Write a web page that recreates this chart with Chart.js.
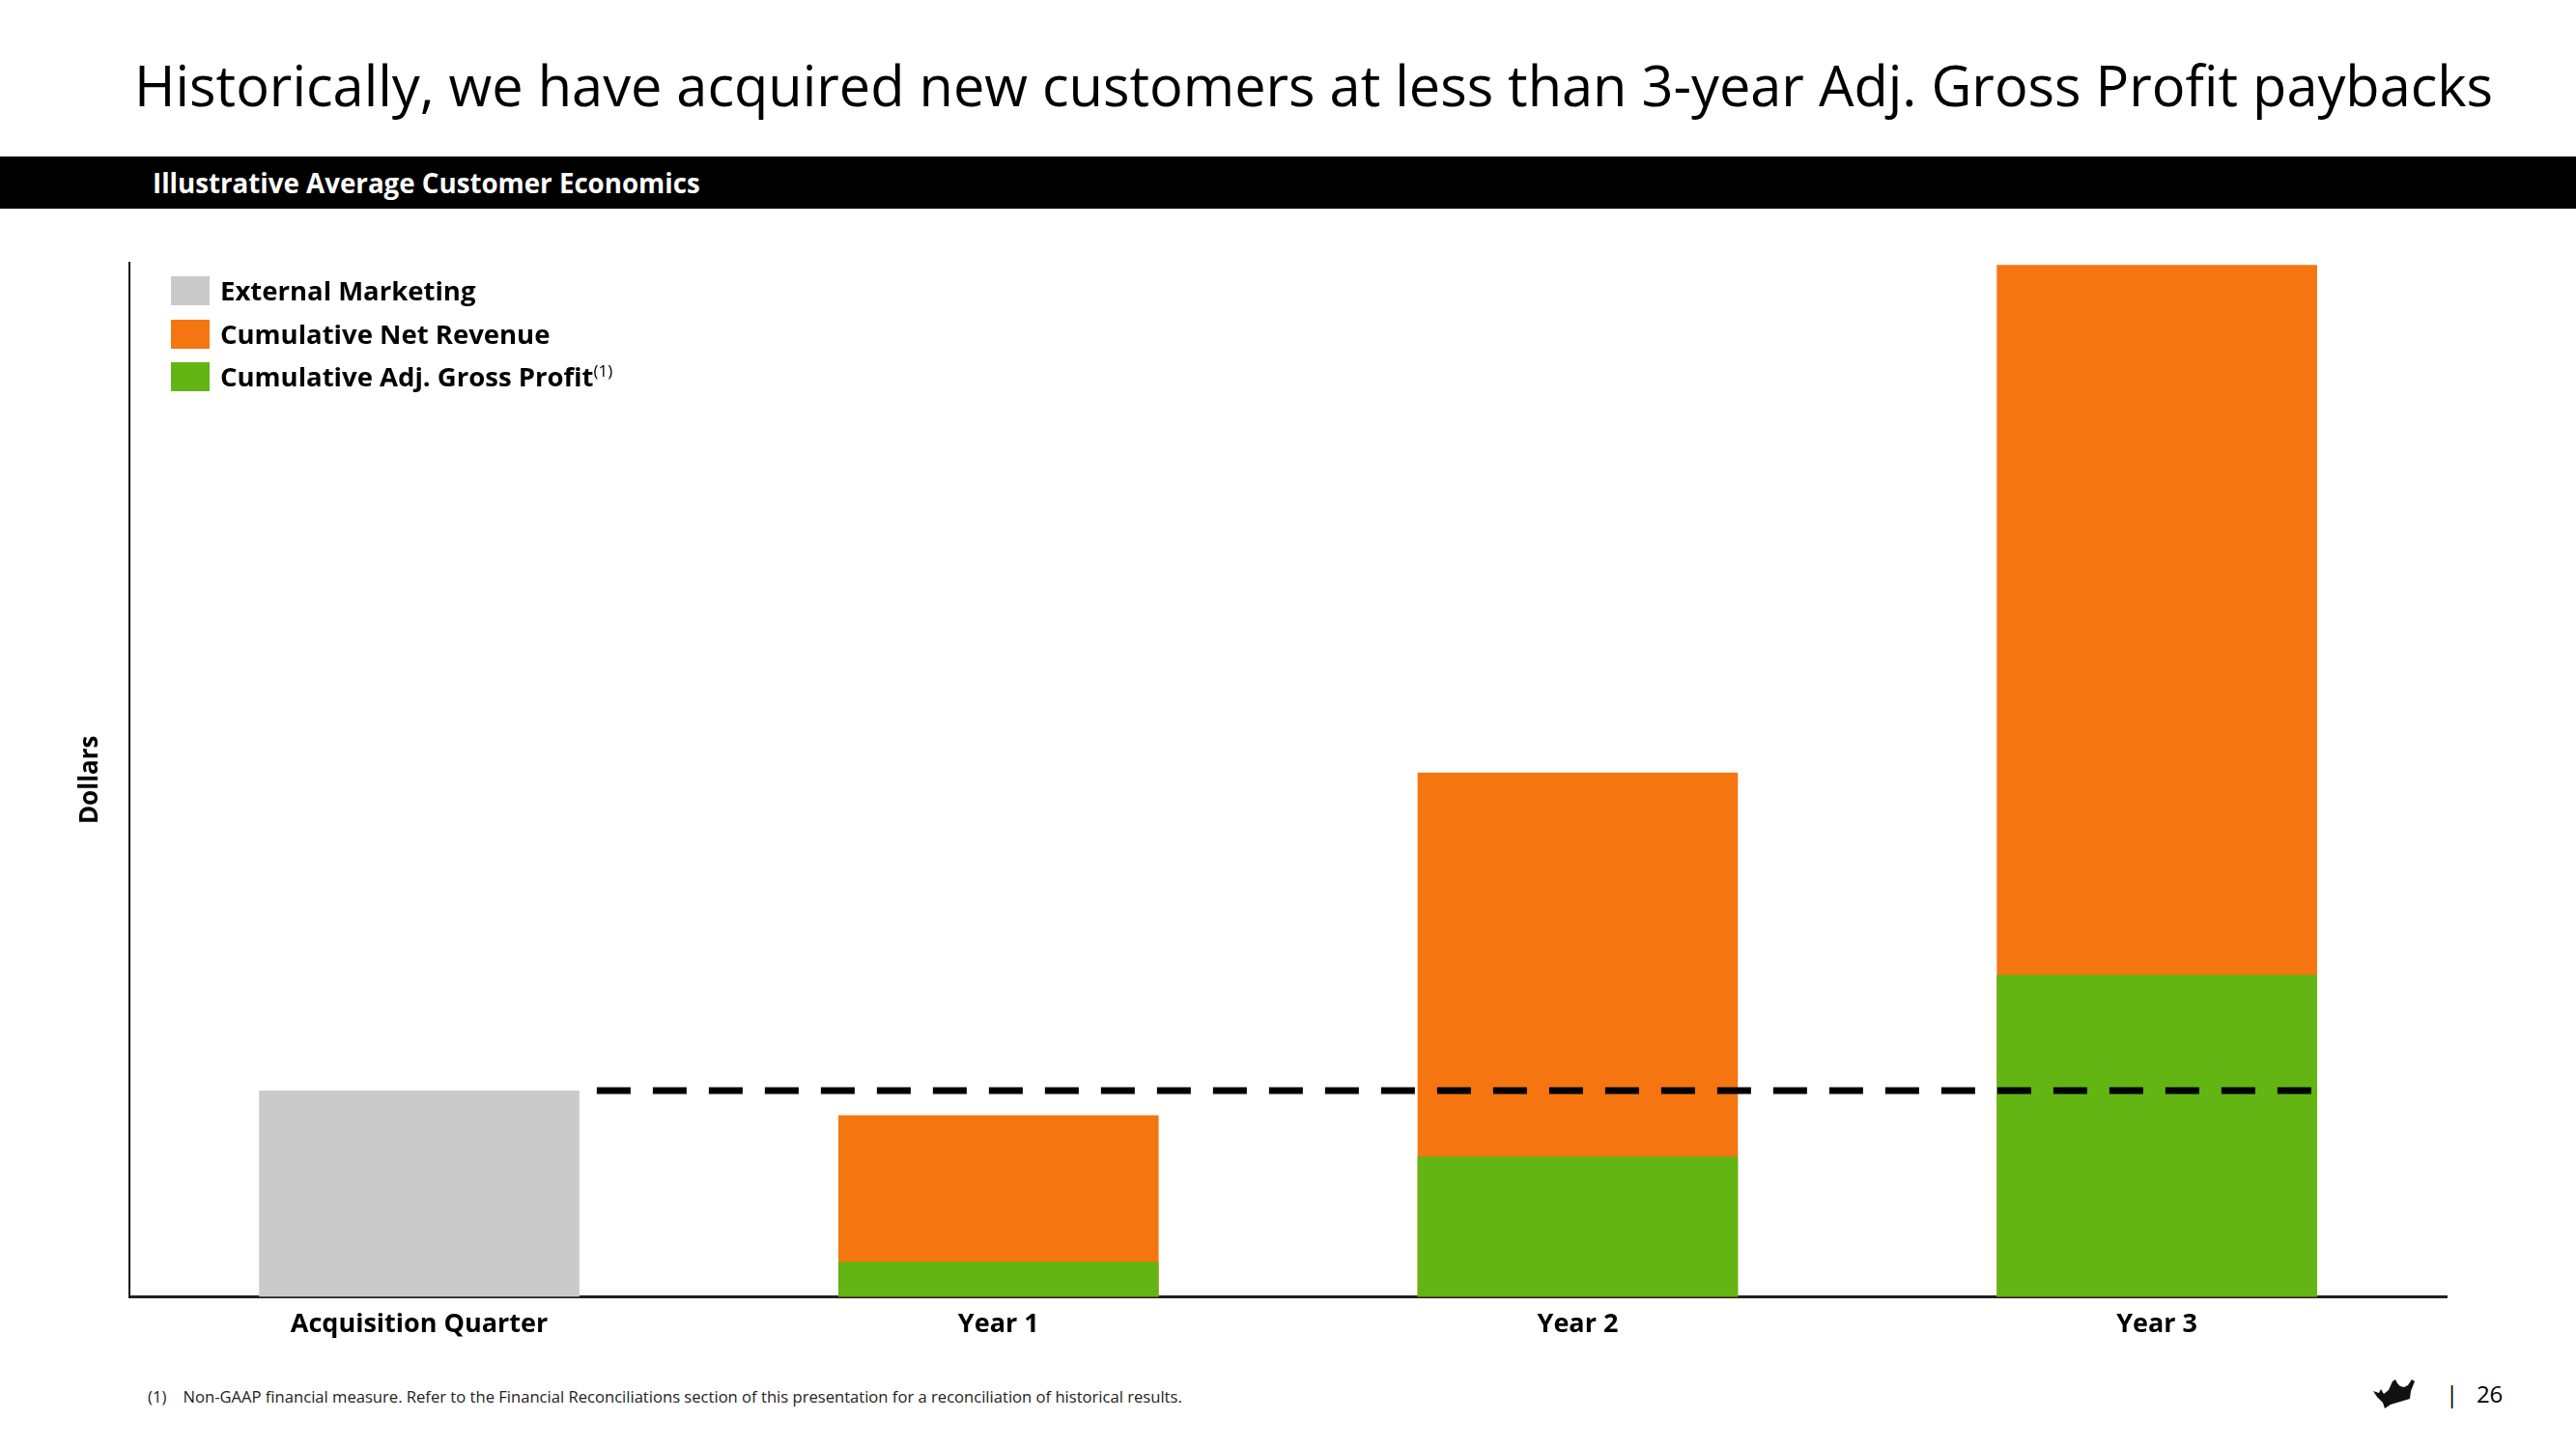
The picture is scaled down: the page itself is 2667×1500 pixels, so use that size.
<!DOCTYPE html>
<html>
<head>
<meta charset="utf-8">
<script src="https://cdn.jsdelivr.net/npm/chart.js@4.4.1/dist/chart.umd.min.js"></script>
<style>
  body { margin: 0; width: 2667px; height: 1500px; background: #fff; font-family: "Open Sans", sans-serif; position: relative; overflow: hidden; }
  #title { position: absolute; left: 139px; top: 48px; font-size: 57.7px; color: #000; white-space: nowrap; }
  #band { position: absolute; left: 0; top: 162px; width: 2667px; height: 54px; background: #000; }
  #band span { position: absolute; left: 158px; top: 8px; color: #fff; font-weight: 700; font-size: 27.7px; }
  #chartBox { position: absolute; left: 0; top: 262px; width: 2667px; height: 1150px; }
  #legend { position: absolute; left: 177px; top: 286px; }
  .item { position: relative; height: 44.5px; }
  .sw { position: absolute; left: 0; top: 0; width: 40px; height: 30px; }
  .lbl { position: absolute; left: 51px; top: -4px; font-weight: 700; font-size: 27.5px; white-space: nowrap; color: #000; }
  .lbl sup { font-weight: 400; font-size: 17px; }
  #foot { position: absolute; left: 153px; top: 1434px; font-size: 16.6px; color: #222; white-space: nowrap; }
  #page { position: absolute; left: 2532px; top: 1426px; font-size: 24px; color: #000; white-space: nowrap; }
  #logo { position: absolute; left: 2455px; top: 1426px; }
</style>
</head>
<body>
<div id="title">Historically, we have acquired new customers at less than 3-year Adj. Gross Profit paybacks</div>
<div id="band"><span>Illustrative Average Customer Economics</span></div>
<div id="chartBox"><canvas id="chart"></canvas></div>
<div id="legend"></div>
<div id="foot">(1)&nbsp;&nbsp;&nbsp;&nbsp;Non-GAAP financial measure. Refer to the Financial Reconciliations section of this presentation for a reconciliation of historical results.</div>
<svg id="logo" width="48" height="34" viewBox="0 0 48 34">
  <path d="M2 14 L8 16 L10 12 L13 17 L18 13 L22 4 L25 2 L27 6 L30 9 L34 10 L38 8 L42 2 L45 4 L41 14 L40 22 L30 25 L20 28 L14 32 L12 26 L6 20 Z" fill="#111"/>
</svg>
<div id="page">|&nbsp;&nbsp;&nbsp;26</div>
<script>
// illustrative values (arbitrary dollar units)
const categories = ['Acquisition Quarter', 'Year 1', 'Year 2', 'Year 3'];
const externalMarketing = [100, null, null, null];
const cumulativeNetRevenue = [null, 88, 254, 500];
const cumulativeGrossProfit = [null, 17, 68, 156];
const paybackLevel = 100;

const colors = { marketing: '#CACACA', revenue: '#F57611', profit: '#62B512' };

const legendItems = [
  { text: 'External Marketing', color: colors.marketing },
  { text: 'Cumulative Net Revenue', color: colors.revenue },
  { text: 'Cumulative Adj. Gross Profit<sup>(1)</sup>', color: colors.profit }
];
document.getElementById('legend').innerHTML = legendItems.map(it =>
  '<div class="item"><div class="sw" style="background:' + it.color + '"></div><div class="lbl">' + it.text + '</div></div>'
).join('');

// dashed payback line, from just right of the marketing bar to the right edge of the last bar
const paybackLine = {
  id: 'paybackLine',
  afterDatasetsDraw(chart) {
    const ctx = chart.ctx;
    const y = chart.scales.y.getPixelForValue(paybackLevel);
    const first = chart.getDatasetMeta(0).data[0];
    const last = chart.getDatasetMeta(2).data[categories.length - 1];
    const x0 = first.x + first.width / 2 + 18;
    const x1 = last.x + last.width / 2;
    ctx.save();
    ctx.strokeStyle = '#000';
    ctx.lineWidth = 7;
    ctx.setLineDash([35, 23]);
    ctx.beginPath();
    ctx.moveTo(x0, y);
    ctx.lineTo(x1, y);
    ctx.stroke();
    ctx.restore();
  }
};

new Chart(document.getElementById('chart'), {
  type: 'bar',
  data: {
    labels: categories,
    datasets: [
      { label: 'External Marketing', data: externalMarketing, backgroundColor: colors.marketing, order: 2 },
      { label: 'Cumulative Adj. Gross Profit', data: cumulativeGrossProfit, backgroundColor: colors.profit, order: 0 },
      { label: 'Cumulative Net Revenue', data: cumulativeNetRevenue, backgroundColor: colors.revenue, order: 1 }
    ]
  },
  options: {
    responsive: true,
    maintainAspectRatio: false,
    animation: false,
    categoryPercentage: 1,
    barPercentage: 0.553,
    layout: { padding: { left: 78, right: 134, top: 10, bottom: 19 } },
    plugins: { legend: { display: false }, tooltip: { enabled: false } },
    scales: {
      x: {
        stacked: true,
        grid: { display: false },
        border: { display: true, color: '#222', width: 3 },
        ticks: { color: '#000', font: { family: 'Open Sans', size: 27, weight: 'bold' }, padding: 5 }
      },
      y: {
        stacked: false,
        min: 0,
        max: 501,
        grid: { display: false },
        border: { display: true, color: '#111', width: 2 },
        ticks: { display: false },
        title: { display: true, text: 'Dollars', color: '#000', font: { family: 'Open Sans', size: 26, weight: 'bold' }, padding: { top: 0, bottom: 17 } }
      }
    }
  },
  plugins: [paybackLine]
});
</script>
</body>
</html>
